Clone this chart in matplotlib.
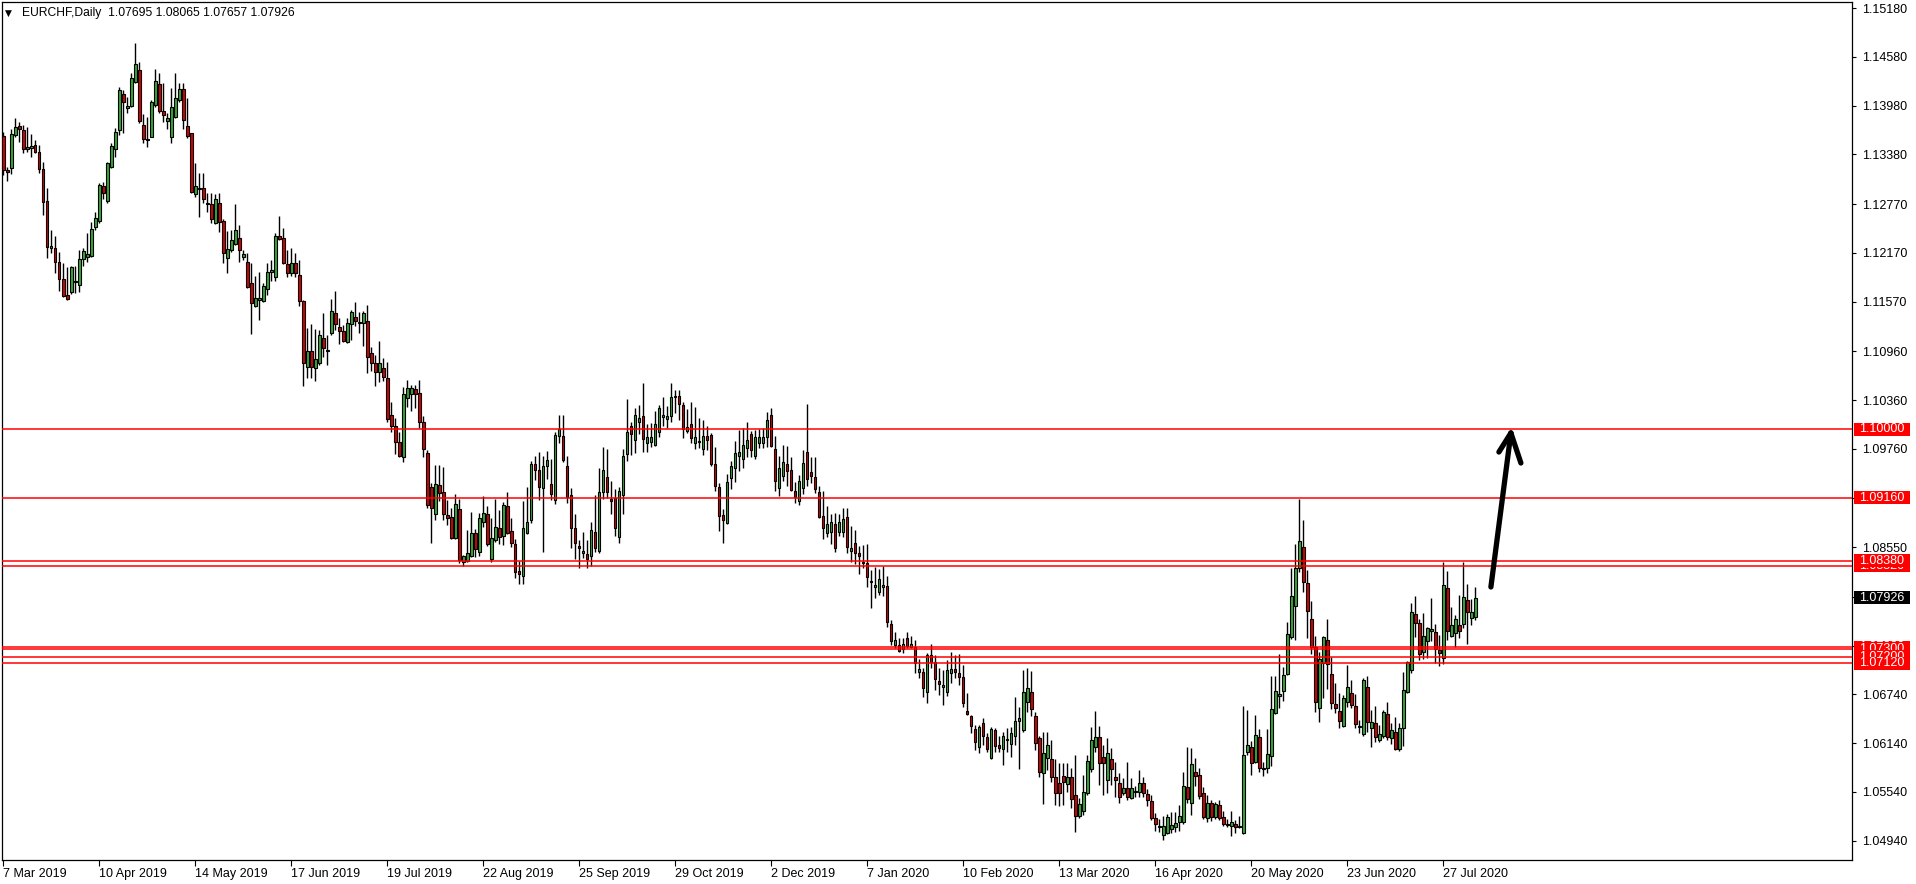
import matplotlib
matplotlib.use("Agg")
import matplotlib.pyplot as plt
import matplotlib.transforms as mtransforms
from matplotlib.patches import Rectangle
import numpy as np

plt.rcParams['font.family'] = ['Liberation Sans', 'DejaVu Sans']

# ---------------- data (prices in pips, 1e-4) ----------------
opens_pips = [
    11361, 11319, 11321, 11362, 11373, 11368, 11345, 11346, 11350, 11341,
    11320, 11281, 11223, 11223, 11206, 11185, 11165, 11169, 11181, 11177,
    11209, 11212, 11213, 11249, 11256, 11299, 11281, 11323, 11345, 11368,
    11412, 11395, 11398, 11427, 11442, 11374, 11357, 11360, 11399, 11425,
    11392, 11379, 11360, 11384, 11405, 11419, 11373, 11364, 11289, 11296,
    11297, 11278, 11277, 11254, 11278, 11256, 11211, 11220, 11228, 11235,
    11212, 11206, 11180, 11152, 11159, 11158, 11172, 11193, 11187, 11238,
    11235, 11203, 11192, 11205, 11190, 11158, 11077, 11096, 11075, 11082,
    11112, 11096, 11118, 11143, 11126, 11121, 11107, 11130, 11138, 11131,
    11131, 11133, 11094, 11082, 11070, 11075, 11063, 11018, 11004, 10984,
    10966, 11038, 11043, 11050, 11045, 11009, 10971, 10929, 10896, 10931,
    10923, 10895, 10892, 10866, 10902, 10837, 10838, 10844, 10872, 10849,
    10886, 10896, 10840, 10864, 10879, 10869, 10906, 10875, 10859, 10826,
    10820, 10872, 10888, 10957, 10950, 10928, 10955, 10933, 10913, 10992,
    10992, 10955, 10919, 10879, 10856, 10848, 10847, 10844, 10874, 10850,
    10923, 10941, 10914, 10915, 10868, 10919, 10970, 11004, 10987, 11009,
    11016, 10983, 10984, 10981, 10997, 11015, 11013, 11016, 11040, 11041,
    11030, 10998, 11006, 10983, 10984, 10976, 10992, 10993, 10957, 10929,
    10895, 10885, 10940, 10952, 10967, 10963, 10977, 10994, 10967, 10983,
    10983, 10990, 11018, 10976, 10928, 10943, 10957, 10950, 10924, 10912,
    10928, 10972, 10947, 10941, 10923, 10893, 10872, 10874, 10883, 10874,
    10874, 10892, 10850, 10860, 10848, 10837, 10836, 10812, 10806, 10800,
    10806, 10807, 10760, 10735, 10735, 10730, 10743, 10732, 10732, 10701,
    10701, 10677, 10722, 10714, 10690, 10683, 10677, 10700, 10705, 10700,
    10695, 10653, 10647, 10631, 10609, 10639, 10622, 10596, 10630, 10612,
    10607, 10618, 10613, 10623, 10641, 10630, 10665, 10677, 10647, 10620,
    10577, 10596, 10594, 10572, 10565, 10574, 10564, 10572, 10550, 10524,
    10530, 10553, 10582, 10609, 10622, 10597, 10569, 10594, 10572, 10565,
    10553, 10559, 10546, 10554, 10554, 10565, 10551, 10543, 10522, 10511,
    10501, 10503, 10508, 10511, 10517, 10517, 10560, 10540, 10578, 10575,
    10553, 10522, 10540, 10523, 10538, 10523, 10513, 10512, 10514, 10511,
    10503, 10603, 10609, 10591, 10622, 10583, 10583, 10598, 10651, 10672,
    10678, 10699, 10745, 10783, 10829, 10855, 10811, 10767, 10732, 10657,
    10713, 10741, 10699, 10662, 10653, 10635, 10665, 10676, 10660, 10634,
    10625, 10683, 10633, 10639, 10618, 10623, 10650, 10620, 10628, 10607,
    10633, 10677, 10704, 10773, 10762, 10726, 10740, 10752, 10751, 10729,
    10719, 10805, 10746, 10749, 10759, 10760, 10790, 10768, 10769.5,
]
highs_pips = [
    11366, 11323, 11369, 11383, 11378, 11374, 11372, 11363, 11356, 11350,
    11329, 11297, 11245, 11238, 11218, 11205, 11200, 11201, 11201, 11220,
    11223, 11241, 11255, 11267, 11303, 11304, 11329, 11352, 11371, 11421,
    11417, 11409, 11438, 11475, 11452, 11388, 11384, 11405, 11443, 11438,
    11426, 11389, 11420, 11438, 11426, 11426, 11407, 11365, 11328, 11315,
    11315, 11291, 11291, 11289, 11291, 11259, 11244, 11245, 11277, 11251,
    11220, 11217, 11205, 11188, 11193, 11180, 11205, 11208, 11241, 11262,
    11248, 11220, 11223, 11217, 11208, 11159, 11125, 11130, 11123, 11122,
    11143, 11116, 11160, 11170, 11137, 11128, 11137, 11147, 11156, 11144,
    11146, 11153, 11101, 11091, 11109, 11088, 11083, 11034, 11014, 10997,
    11052, 11061, 11054, 11054, 11061, 11016, 10974, 10934, 10956, 10956,
    10954, 10913, 10903, 10920, 10914, 10845, 10876, 10898, 10877, 10897,
    10918, 10906, 10891, 10914, 10901, 10911, 10923, 10891, 10865, 10838,
    10912, 10929, 10961, 10967, 10972, 10967, 10973, 10963, 10997, 11018,
    11018, 10967, 10928, 10896, 10864, 10874, 10864, 10886, 10919, 10952,
    10978, 10976, 10936, 10926, 10929, 10976, 11037, 11009, 11026, 11030,
    11057, 11006, 11008, 11022, 11030, 11040, 11029, 11057, 11048, 11048,
    11034, 11025, 11034, 11028, 11014, 11011, 11004, 10995, 10978, 10934,
    10902, 10945, 10961, 10986, 10999, 11002, 11009, 10998, 10999, 11000,
    11002, 11021, 11026, 10992, 10967, 10981, 10979, 10966, 10935, 10944,
    10974, 11031, 10966, 10966, 10930, 10924, 10906, 10896, 10897, 10896,
    10903, 10903, 10881, 10876, 10856, 10858, 10859, 10827, 10831, 10828,
    10832, 10820, 10765, 10751, 10743, 10743, 10751, 10746, 10741, 10717,
    10706, 10725, 10736, 10722, 10706, 10704, 10716, 10726, 10722, 10724,
    10710, 10676, 10649, 10636, 10636, 10645, 10626, 10634, 10633, 10623,
    10628, 10633, 10634, 10671, 10658, 10704, 10706, 10703, 10652, 10623,
    10628, 10628, 10618, 10594, 10590, 10590, 10590, 10583, 10599, 10546,
    10575, 10599, 10634, 10653, 10635, 10612, 10620, 10608, 10591, 10577,
    10571, 10591, 10571, 10561, 10581, 10572, 10557, 10550, 10528, 10521,
    10524, 10527, 10529, 10529, 10538, 10578, 10609, 10608, 10596, 10583,
    10560, 10550, 10544, 10542, 10544, 10530, 10521, 10530, 10519, 10524,
    10660, 10655, 10617, 10649, 10631, 10591, 10631, 10697, 10697, 10724,
    10708, 10763, 10829, 10859, 10914, 10888, 10827, 10789, 10746, 10726,
    10746, 10767, 10720, 10688, 10676, 10673, 10710, 10692, 10674, 10642,
    10694, 10697, 10655, 10660, 10636, 10655, 10665, 10639, 10646, 10639,
    10701, 10715, 10786, 10795, 10767, 10774, 10757, 10792, 10760, 10747,
    10837, 10826, 10781, 10772, 10796, 10837, 10810, 10791, 10806.5,
]
lows_pips = [
    11313, 11305, 11314, 11360, 11353, 11340, 11341, 11335, 11340, 11315,
    11264, 11211, 11217, 11192, 11170, 11163, 11159, 11166, 11168, 11169,
    11201, 11206, 11212, 11245, 11254, 11283, 11278, 11321, 11335, 11362,
    11364, 11389, 11396, 11426, 11377, 11352, 11347, 11359, 11396, 11389,
    11378, 11369, 11352, 11383, 11403, 11369, 11358, 11291, 11286, 11261,
    11278, 11267, 11254, 11253, 11243, 11205, 11192, 11218, 11227, 11206,
    11208, 11174, 11117, 11150, 11134, 11157, 11165, 11182, 11182, 11233,
    11203, 11187, 11188, 11187, 11152, 11053, 11063, 11063, 11059, 11079,
    11089, 11079, 11116, 11122, 11105, 11107, 11106, 11110, 11127, 11118,
    11102, 11069, 11072, 11053, 11058, 11059, 11009, 10997, 10970, 10966,
    10960, 11027, 11022, 11026, 11002, 10966, 10903, 10860, 10888, 10912,
    10888, 10882, 10865, 10865, 10836, 10832, 10837, 10843, 10843, 10844,
    10880, 10856, 10837, 10861, 10859, 10858, 10871, 10855, 10817, 10810,
    10810, 10871, 10885, 10938, 10913, 10849, 10939, 10913, 10908, 10983,
    10960, 10909, 10854, 10840, 10829, 10842, 10829, 10832, 10849, 10848,
    10914, 10915, 10896, 10869, 10860, 10896, 10961, 10968, 10971, 10994,
    10972, 10972, 10978, 10979, 10990, 11004, 11002, 11009, 11020, 11011,
    10989, 10995, 10983, 10976, 10977, 10968, 10974, 10955, 10924, 10875,
    10860, 10883, 10926, 10935, 10949, 10952, 10966, 10966, 10963, 10977,
    10977, 10978, 10978, 10924, 10918, 10936, 10930, 10924, 10909, 10907,
    10920, 10930, 10934, 10922, 10891, 10865, 10868, 10859, 10849, 10869,
    10868, 10848, 10837, 10834, 10822, 10829, 10806, 10780, 10792, 10796,
    10795, 10757, 10735, 10731, 10726, 10725, 10731, 10731, 10700, 10694,
    10671, 10663, 10706, 10679, 10673, 10661, 10672, 10688, 10694, 10685,
    10658, 10649, 10626, 10606, 10602, 10612, 10603, 10594, 10603, 10603,
    10587, 10603, 10597, 10612, 10582, 10628, 10652, 10647, 10606, 10572,
    10539, 10581, 10566, 10538, 10537, 10538, 10554, 10534, 10505, 10522,
    10526, 10550, 10578, 10603, 10562, 10550, 10553, 10562, 10548, 10540,
    10550, 10544, 10545, 10548, 10548, 10548, 10537, 10519, 10506, 10505,
    10495, 10502, 10503, 10505, 10506, 10514, 10540, 10526, 10561, 10545,
    10521, 10517, 10518, 10521, 10519, 10512, 10511, 10500, 10503, 10510,
    10502, 10599, 10575, 10589, 10578, 10574, 10577, 10586, 10650, 10657,
    10666, 10698, 10742, 10741, 10824, 10800, 10743, 10724, 10652, 10640,
    10669, 10680, 10656, 10651, 10633, 10634, 10658, 10657, 10633, 10626,
    10623, 10628, 10609, 10615, 10615, 10620, 10618, 10613, 10606, 10604,
    10610, 10676, 10700, 10745, 10716, 10717, 10719, 10740, 10713, 10709,
    10711, 10741, 10745, 10732, 10743, 10756, 10736, 10759, 10765.7,
]
closes_pips = [
    11319, 11316, 11363, 11372, 11369, 11345, 11347, 11348, 11341, 11320,
    11280, 11224, 11225, 11206, 11185, 11164, 11160, 11200, 11182, 11209,
    11219, 11216, 11246, 11260, 11300, 11291, 11328, 11348, 11366, 11417,
    11403, 11398, 11432, 11449, 11379, 11357, 11356, 11403, 11428, 11392,
    11387, 11383, 11396, 11407, 11419, 11380, 11361, 11292, 11299, 11297,
    11283, 11277, 11259, 11283, 11255, 11217, 11222, 11233, 11245, 11220,
    11216, 11175, 11155, 11161, 11161, 11176, 11193, 11196, 11238, 11234,
    11205, 11192, 11205, 11192, 11158, 11082, 11096, 11077, 11086, 11116,
    11100, 11098, 11146, 11130, 11121, 11109, 11131, 11144, 11133, 11132,
    11143, 11089, 11082, 11070, 11082, 11064, 11013, 11004, 10984, 10967,
    11043, 11051, 11051, 11043, 11009, 10976, 10907, 10903, 10933, 10922,
    10896, 10891, 10866, 10908, 10839, 10844, 10848, 10872, 10853, 10891,
    10897, 10859, 10866, 10880, 10868, 10907, 10872, 10860, 10824, 10822,
    10879, 10886, 10957, 10950, 10929, 10955, 10962, 10920, 10993, 11000,
    10962, 10917, 10879, 10860, 10854, 10850, 10840, 10876, 10854, 10923,
    10950, 10923, 10912, 10879, 10924, 10967, 10997, 10994, 11018, 11014,
    10988, 10990, 10990, 11006, 11026, 11018, 11016, 11040, 11041, 11031,
    11000, 11003, 10989, 10990, 10986, 10992, 10987, 10957, 10930, 10893,
    10888, 10935, 10955, 10971, 10972, 10981, 10987, 10974, 10990, 10990,
    10990, 11011, 10979, 10936, 10952, 10960, 10949, 10925, 10917, 10936,
    10959, 10939, 10943, 10927, 10892, 10879, 10883, 10886, 10854, 10886,
    10890, 10855, 10854, 10848, 10844, 10836, 10818, 10813, 10808, 10816,
    10808, 10763, 10740, 10741, 10727, 10736, 10733, 10736, 10713, 10705,
    10682, 10722, 10714, 10693, 10687, 10685, 10704, 10705, 10701, 10695,
    10663, 10650, 10635, 10615, 10634, 10623, 10607, 10631, 10610, 10608,
    10623, 10619, 10626, 10641, 10645, 10677, 10682, 10656, 10614, 10578,
    10602, 10612, 10572, 10553, 10553, 10566, 10572, 10545, 10524, 10539,
    10554, 10592, 10618, 10622, 10590, 10590, 10602, 10582, 10569, 10548,
    10559, 10548, 10559, 10555, 10565, 10553, 10544, 10522, 10514, 10512,
    10512, 10523, 10513, 10516, 10524, 10561, 10545, 10588, 10574, 10549,
    10523, 10540, 10523, 10539, 10522, 10514, 10514, 10517, 10511, 10512,
    10599, 10612, 10590, 10624, 10583, 10582, 10601, 10656, 10678, 10674,
    10698, 10748, 10795, 10829, 10863, 10812, 10776, 10732, 10665, 10717,
    10745, 10711, 10663, 10657, 10641, 10669, 10683, 10661, 10637, 10635,
    10692, 10640, 10640, 10622, 10625, 10652, 10622, 10630, 10607, 10633,
    10679, 10714, 10775, 10762, 10724, 10746, 10756, 10754, 10730, 10725,
    10808, 10752, 10759, 10767, 10752, 10794, 10775, 10775, 10792.6,
]

date_labels = ['7 Mar 2019', '10 Apr 2019', '14 May 2019', '17 Jun 2019',
               '19 Jul 2019', '22 Aug 2019', '25 Sep 2019', '29 Oct 2019',
               '2 Dec 2019', '7 Jan 2020', '10 Feb 2020', '13 Mar 2020',
               '16 Apr 2020', '20 May 2020', '23 Jun 2020', '27 Jul 2020']
date_bars = [1, 25, 49, 73, 97, 121, 145, 169, 193, 217, 241, 265, 289, 313, 337, 361]

price_ticks = [1.15180, 1.14580, 1.13980, 1.13380, 1.12770, 1.12170, 1.11570,
               1.10960, 1.10360, 1.09760, 1.09160, 1.08550, 1.07940, 1.07340,
               1.06740, 1.06140, 1.05540, 1.04940]

levels = [1.10000, 1.09160, 1.08320, 1.08380, 1.07320, 1.07300, 1.07200, 1.07120]
last_price = 1.07926
title = "EURCHF,Daily  1.07695 1.08065 1.07657 1.07926"

# arrow (bar index, price)
arrow_tail = (372.9, 1.0806)
arrow_tip = (377.9, 1.09954)
arrow_wing_left = (374.9, 1.0972)
arrow_wing_right = (380.4, 1.09585)

# ---------------- drawing ----------------
opens = np.array(opens_pips) / 10000
highs = np.array(highs_pips) / 10000
lows = np.array(lows_pips) / 10000
closes = np.array(closes_pips) / 10000
bars = np.arange(1, len(opens) + 1)

W, H = 1916, 884
fig = plt.figure(figsize=(W / 100, H / 100), dpi=100)
ax = fig.add_axes([2 / W, 24 / H, 1850 / W, 858 / H])

GREEN = '#34A934'
RED = '#D50000'
colors = np.where(closes >= opens, GREEN, RED)

ax.vlines(bars, np.minimum(lows, np.minimum(opens, closes)),
          np.maximum(highs, np.maximum(opens, closes)),
          color='black', lw=1.0, zorder=3)
ax.bar(bars, np.abs(closes - opens), bottom=np.minimum(opens, closes),
       width=0.6, color=colors, edgecolor='black', linewidth=0.8, zorder=4)

for lv in levels:
    ax.axhline(lv, color='#FF0000', lw=1.1, zorder=5)

# arrow
akw = dict(color='black', lw=3.8, solid_capstyle='round', zorder=6)
ax.plot([arrow_tail[0], arrow_tip[0]], [arrow_tail[1], arrow_tip[1]], **akw)
ax.plot([arrow_wing_left[0], arrow_tip[0]], [arrow_wing_left[1], arrow_tip[1]], **akw)
ax.plot([arrow_wing_right[0], arrow_tip[0]], [arrow_wing_right[1], arrow_tip[1]], **akw)

ymax = 1.1528 - 0.000123 * 2
ymin = 1.1528 - 0.000123 * 860
ax.set_xlim(0.675, 463.175)
ax.set_ylim(ymin, ymax)

# axes styling
for s in ax.spines.values():
    s.set_linewidth(0.9)
    s.set_color('black')
ax.yaxis.tick_right()
ax.set_yticks(price_ticks)
ax.set_yticklabels([f'{v:.5f}' for v in price_ticks])
ax.tick_params(axis='y', direction='out', length=3, width=0.8, pad=4, labelsize=9)
ax.set_xticks(date_bars)
ax.set_xticklabels(date_labels)
ax.tick_params(axis='x', direction='out', length=4, width=0.8, pad=2, labelsize=9)
for lab in ax.get_xticklabels():
    lab.set_horizontalalignment('left')

# right-side price boxes
blend = mtransforms.blended_transform_factory(fig.transFigure, ax.transData)
px_price = (ymax - ymin) / 858
hh = 6.5 * px_price


def price_box(val, face, z):
    ax.add_patch(Rectangle((1854 / W, val - hh), 56 / W, 2 * hh, transform=blend,
                           facecolor=face, edgecolor='none', clip_on=False, zorder=z))
    ax.text(1859 / W, val, f'{val:.5f}', transform=blend, color='white', fontsize=9,
            va='center', ha='left', zorder=z + 0.5, clip_on=False)


for i, lv in enumerate(levels):
    price_box(lv, '#FF0000', 10 + i)
price_box(last_price, 'black', 30)
ax.set_ylim(ymin, ymax)

# title
fig.text(5 / W, 1 - 13 / H, '\u25BC', fontsize=6.5, family='DejaVu Sans', va='center', ha='left')
fig.text(22 / W, 1 - 13 / H, title, fontsize=8.7, va='center', ha='left')

fig.savefig('out.png', dpi=100, facecolor='white')
